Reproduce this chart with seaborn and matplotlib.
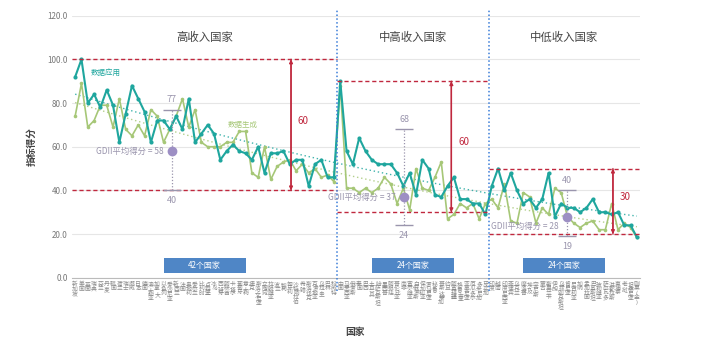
import numpy as np
import pandas as pd
import seaborn as sns
import matplotlib.pyplot as plt
from matplotlib.patches import Rectangle

# ---- data -------------------------------------------------------------
high_income = ["新加坡", "美国", "英国", "瑞典", "芬兰", "丹麦", "韩国", "荷兰", "瑞士", "挪威",
               "日本", "德国", "澳大利亚", "加拿大", "以色列", "爱沙尼亚", "新西兰", "法国", "奥地利", "爱尔兰",
               "比利时", "卢森堡", "冰岛", "西班牙", "阿联酋", "卡塔尔", "葡萄牙", "意大利", "捷克", "斯洛文尼亚",
               "立陶宛", "拉脱维亚", "波兰", "智利", "匈牙利", "沙特阿拉伯", "希腊", "斯洛伐克", "克罗地亚", "乌拉圭",
               "巴林", "科威特"]
upper_middle = ["中国", "马来西亚", "俄罗斯", "泰国", "巴西", "土耳其", "哈萨克斯坦", "墨西哥", "阿根廷", "哥伦比亚",
                "南非", "塞尔维亚", "白俄罗斯", "保加利亚", "罗马尼亚", "秘鲁", "哥斯达黎加", "约旦", "阿塞拜疆", "格鲁吉亚",
                "亚美尼亚", "厄瓜多尔", "多米尼加", "牙买加"]
lower_middle = ["印度", "越南", "印度尼西亚", "菲律宾", "乌克兰", "摩洛哥", "埃及", "突尼斯", "蒙古", "斯里兰卡",
                "伊朗", "乌兹别克斯坦", "肯尼亚", "尼日利亚", "加纳", "孟加拉国", "巴基斯坦", "玻利维亚", "萨尔瓦多", "洪都拉斯",
                "柬埔寨", "老挝", "坦桑尼亚", "刚果(金)"]

# 数据应用
data_use = [92, 100, 80, 84, 78, 86, 79, 62, 75, 88, 82, 76, 62, 72, 72, 68, 74, 68, 82, 62,
            66, 70, 66, 54, 58, 61, 58, 57, 54, 60, 48, 57, 57, 58, 52, 54, 54, 42, 52, 54,
            46, 46,
            90, 58, 52, 64, 58, 54, 52, 52, 52, 48, 42, 48, 38, 54, 50, 38, 37, 42, 46, 36,
            36, 34, 34, 29,
            42, 50, 40, 48, 40, 34, 36, 32, 36, 48, 28, 34, 32, 32, 30, 32, 36, 30, 30, 29,
            30, 24, 24, 18.5]
# 数据生成
data_gen = [74, 89, 69, 72, 79, 79, 69, 82, 68, 65, 70, 65, 77, 74, 62, 68, 74, 82, 69, 77,
            62, 60, 60, 60, 62, 62, 67, 67, 48, 46, 60, 45, 51, 53, 54, 49, 52, 48, 50, 46,
            47, 44,
            88, 41, 41, 39, 41, 39, 41, 46, 43, 34, 41, 31, 50, 41, 40, 46, 53, 27, 29, 34,
            32, 34, 27, 34,
            36, 32, 43, 26, 25, 39, 37, 25, 32, 29, 41, 39, 28, 25, 23, 25, 26, 22, 22, 34,
            22, 25, 23, 18.5]

group_titles = ["高收入国家", "中高收入国家", "中低收入国家"]
group_counts_text = ["42个国家", "24个国家", "24个国家"]
band_top = [100, 90, 50]
band_bottom = [40, 30, 20]
gdii_mean = [58, 37, 28]
gdii_max = [77, 68, 40]
gdii_min = [40, 24, 19]

# ---- style ------------------------------------------------------------
sns.set_style("white")
plt.rcParams["font.family"] = ["Noto Sans CJK SC", "DejaVu Sans"]
plt.rcParams["axes.unicode_minus"] = False

TEAL = "#1fa69e"
GREEN = "#a6c777"
RED = "#c0283e"
BLUE = "#3b7dd8"
PURPLE = "#9d8fc4"
PGRAY = "#9a95ad"
GRAY = "#777777"

names = high_income + upper_middle + lower_middle
idx = np.arange(len(names))
sizes = [len(high_income), len(upper_middle), len(lower_middle)]
edges = np.concatenate([[0], np.cumsum(sizes)]) - 0.5
df = pd.DataFrame({"idx": idx, "数据应用": data_use, "数据生成": data_gen})

fig = plt.figure(figsize=(7.2, 3.57), dpi=100)
ax = fig.add_axes([0.1, 0.222, 0.789, 0.734])

# trend lines
sns.regplot(data=df, x="idx", y="数据应用", order=2, scatter=False, ci=None, ax=ax,
            line_kws=dict(color=TEAL, ls=(0, (1, 2)), lw=1, alpha=0.85, zorder=2))
sns.regplot(data=df, x="idx", y="数据生成", order=2, scatter=False, ci=None, ax=ax,
            line_kws=dict(color=GREEN, ls=(0, (1, 2)), lw=1, alpha=0.85, zorder=2))

# series
sns.lineplot(data=df, x="idx", y="数据生成", color=GREEN, lw=1.2, marker="o",
             markersize=2.6, markeredgewidth=0, ax=ax, zorder=3)
sns.lineplot(data=df, x="idx", y="数据应用", color=TEAL, lw=1.5, marker="o",
             markersize=3, markeredgewidth=0, ax=ax, zorder=4)

ax.text(2.5, 94, "数据应用", color=TEAL, fontsize=5.4, va="center")
ax.text(24.2, 70, "数据生成", color=GREEN, fontsize=5.4, va="center")

# group decorations
arrow_x = [34.2, 59.6, 85.2]
gdii_x = [15.3, 52.1, 77.9]
gdii_text_dy = [0, 0, -7]
for g in range(3):
    x0, x1 = edges[g], edges[g + 1]
    mid = (x0 + x1) / 2
    ax.hlines([band_top[g], band_bottom[g]], x0, x1, colors=RED, linestyles=(0, (3, 2)), lw=1, zorder=5)
    ax.annotate("", xy=(arrow_x[g], band_bottom[g]), xytext=(arrow_x[g], band_top[g]),
                arrowprops=dict(arrowstyle="-|>", color=RED, lw=1, mutation_scale=5,
                                shrinkA=0, shrinkB=0), zorder=5)
    ax.annotate("", xy=(arrow_x[g], band_top[g]), xytext=(arrow_x[g], band_bottom[g]),
                arrowprops=dict(arrowstyle="-|>", color=RED, lw=1, mutation_scale=5,
                                shrinkA=0, shrinkB=0), zorder=5)
    ax.text(arrow_x[g] + 1.1, (band_top[g] + band_bottom[g]) / 2 + 2,
            f"{band_top[g] - band_bottom[g]}", color=RED, fontsize=7, va="center")
    ax.text(mid, 110, group_titles[g], ha="center", va="center", fontsize=8.2,
            color="#444444", fontweight="medium")
    ax.add_patch(Rectangle((mid - 6.5, 2), 13, 7, facecolor="#4f86c6", edgecolor="none", zorder=6))
    ax.text(mid, 5.5, group_counts_text[g], ha="center", va="center", fontsize=5.8,
            color="white", zorder=7)

    # GDII average with range
    eb = ax.errorbar([gdii_x[g]], [gdii_mean[g]],
                     yerr=[[gdii_mean[g] - gdii_min[g]], [gdii_max[g] - gdii_mean[g]]],
                     fmt="o", color=PURPLE, ms=6, ecolor=PGRAY, elinewidth=0.9,
                     capsize=6.5, capthick=1, zorder=8)
    eb[2][0].set_linestyle((0, (1, 1.5)))
    ax.text(gdii_x[g], gdii_max[g] + 2.5, f"{gdii_max[g]}", ha="center", va="bottom",
            fontsize=6.5, color=PGRAY)
    ax.text(gdii_x[g], gdii_min[g] - 2.5, f"{gdii_min[g]}", ha="center", va="top",
            fontsize=6.5, color=PGRAY)
    ax.annotate(f"GDII平均得分 = {gdii_mean[g]}", xy=(gdii_x[g], gdii_mean[g]),
                xytext=(-6, gdii_text_dy[g]), textcoords="offset points",
                ha="right", va="center", fontsize=6, color=PGRAY, zorder=8)

for e in edges[1:-1]:
    ax.axvline(e, ymin=-0.05, ymax=1.02, color=BLUE, ls=(0, (1, 1.5)), lw=1.1,
               clip_on=False, zorder=6)

# axes
ax.set_xlim(-0.5, len(names) - 0.5)
ax.set_ylim(0, 120)
ax.set_yticks(np.arange(0, 121, 20))
ax.set_yticklabels([f"{v:.1f}" for v in np.arange(0, 121, 20)], fontsize=5.8, color=GRAY)
ax.set_xticks(idx)
ax.set_xticklabels(["\n".join(n) for n in names], fontsize=4.2, color="#8a8a8a",
                   linespacing=0.82, va="top")
ax.tick_params(axis="both", length=0, pad=3)
ax.grid(True, axis="y", color="#e6e6e6", lw=0.8)
ax.set_axisbelow(True)
for s in ["top", "right", "left"]:
    ax.spines[s].set_visible(False)
ax.spines["bottom"].set_color("#bbbbbb")
ax.set_xlabel("")
ax.set_ylabel("")

fig.text(355 / 720, 1 - 332 / 357, "国家", ha="center", va="center", fontsize=7,
         color="#444444", fontweight="bold")
fig.text(32 / 720, 1 - 147 / 357, "指标得分", ha="center", va="center", fontsize=7,
         color="#444444", fontweight="bold", rotation=90)

fig.savefig("out.png", dpi=100)
